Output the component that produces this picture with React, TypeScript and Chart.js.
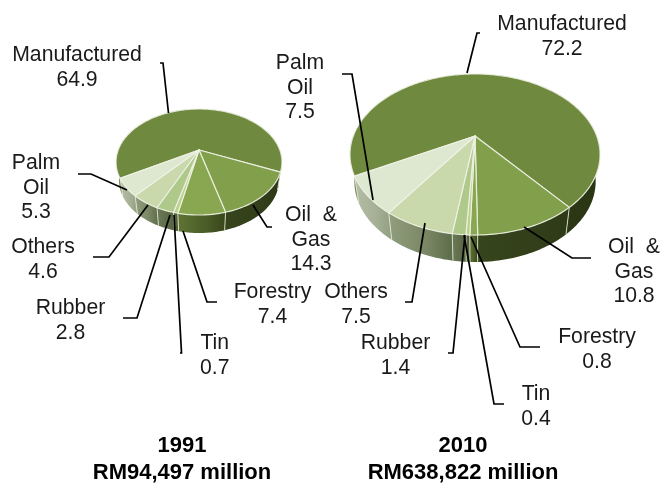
import React, { useEffect, useRef } from "react";
import { Chart, registerables } from "chart.js";

Chart.register(...registerables);

// ---- data ----
const categories = ["Manufactured", "Oil & Gas", "Forestry", "Tin", "Rubber", "Others", "Palm Oil"];
const values1991 = [64.9, 14.3, 7.4, 0.7, 2.8, 4.6, 5.3];
const values2010 = [72.2, 10.8, 0.8, 0.4, 1.4, 7.5, 7.5];
const pieTitles = [
  ["1991", "RM94,497 million"],
  ["2010", "RM638,822 million"],
];
const labelLines = [["Manufactured"], ["Oil  &", "Gas"], ["Forestry"], ["Tin"], ["Rubber"], ["Others"], ["Palm", "Oil"]];

// ---- styles ----
const topColors = ["#6f8a3f", "#829f4b", "#89a750", "#bcd08e", "#afc98a", "#c9d9ac", "#dee7cf"];
const wallStops: [string, string, string][] = [
  ["#7d8f58", "#2f3b18", "#2a3514"],
  ["#36451c", "#323f1a", "#2e3a17"],
  ["#5f7433", "#4a5c28", "#384619"],
  ["#566539", "#525f38", "#4e5b35"],
  ["#6c7a58", "#5f6c4a", "#54623e"],
  ["#909e7e", "#788663", "#5c6b49"],
  ["#b4bea7", "#a4af94", "#929f82"],
];

// ---- layout ----
const rotations = [-120, -118];
const geometry = [
  { cx: 199, cy: 150, a: 80.8, b: 50.3, k: 0.2264, depth: 18 },
  { cx: 475, cy: 136, a: 121.7, b: 76.3, k: 0.2296, depth: 27 },
];
const labelAnchors = [
  [[77, 55], [311, 215], [272.5, 292], [214.7, 343], [70.5, 308], [43, 247], [36, 163]],
  [[562, 24], [634, 247], [597, 337], [536, 394], [395.5, 343], [356, 292], [300, 63]],
];
const leaders = [
  [
    [[160, 63], [163, 63], [168.5, 113]],
    [[272, 227], [267, 227], [253, 205]],
    [[217, 302], [207, 302], [183, 231]],
    [[180, 353], [181.5, 353], [174, 215]],
    [[123, 318], [137, 318], [170, 215]],
    [[93, 257], [109, 257], [148, 205]],
    [[78, 174], [91, 174], [127, 190]],
  ],
  [
    [[480, 33], [477, 33], [467, 73]],
    [[591, 258], [572, 258], [524, 227]],
    [[540, 347], [520, 347], [471, 237]],
    [[504, 404], [494, 404], [464, 235]],
    [[448, 353], [453, 353], [465, 235]],
    [[405, 302], [412, 302], [425, 223]],
    [[342, 74], [352, 74], [373, 200]],
  ],
];
const titleCenters = [182, 463];
const titleRows = [446, 473];
const LABEL_FONT = '21.2px "Liberation Sans", Arial, sans-serif';
const TITLE_FONT = 'bold 22px "Liberation Sans", Arial, sans-serif';
const TEXT_COLOR = "#1a1a1a";
const LINE_HEIGHT = 24.7;

type Geo = (typeof geometry)[number];

function project(g: Geo, angle: number, lower = false): [number, number] {
  const u = Math.cos(angle);
  const v = Math.sin(angle);
  const w = 1 - g.k * v;
  const x = (g.a * u) / w;
  const y = (g.b * v) / w;
  return lower ? [g.cx + x * 0.965, g.cy + y + g.depth] : [g.cx + x, g.cy + y];
}

function sampleAngles(start: number, end: number): number[] {
  const n = Math.max(2, Math.ceil(Math.abs(end - start) / 0.02));
  const out: number[] = [];
  for (let i = 0; i <= n; i++) out.push(start + ((end - start) * i) / n);
  return out;
}

const perspectivePie = {
  id: "perspectivePie",
  beforeDatasetDraw(chart: any, args: any) {
    const ctx: CanvasRenderingContext2D = chart.ctx;
    const g = geometry[args.index];
    const arcs = args.meta.data as any[];
    ctx.save();
    ctx.lineJoin = "round";
    // side walls
    arcs.forEach((arc, i) => {
      const { startAngle, endAngle } = arc.getProps(["startAngle", "endAngle"], true);
      const angles = sampleAngles(startAngle, endAngle);
      const upper = angles.map((t) => project(g, t));
      const lower = angles.map((t) => project(g, t, true));
      const xs = upper.concat(lower).map((p) => p[0]);
      const minX = Math.min(...xs);
      const maxX = Math.max(...xs);
      const grad = ctx.createLinearGradient(minX, 0, Math.max(maxX, minX + 1), 0);
      const stops = wallStops[i];
      grad.addColorStop(0, stops[0]);
      grad.addColorStop(0.6, stops[1]);
      grad.addColorStop(1, stops[2]);
      ctx.beginPath();
      upper.forEach((p, j) => (j ? ctx.lineTo(p[0], p[1]) : ctx.moveTo(p[0], p[1])));
      for (let j = lower.length - 1; j >= 0; j--) ctx.lineTo(lower[j][0], lower[j][1]);
      ctx.closePath();
      ctx.fillStyle = grad;
      ctx.fill();
    });
    // wall separators
    ctx.strokeStyle = "rgba(225,231,212,0.85)";
    ctx.lineWidth = 1;
    arcs.forEach((arc) => {
      const { endAngle } = arc.getProps(["endAngle"], true);
      if (Math.sin(endAngle) < 0) return;
      const a = project(g, endAngle);
      const b = project(g, endAngle, true);
      ctx.beginPath();
      ctx.moveTo(a[0], a[1]);
      ctx.lineTo(b[0], b[1]);
      ctx.stroke();
    });
    // top faces
    arcs.forEach((arc, i) => {
      const { startAngle, endAngle } = arc.getProps(["startAngle", "endAngle"], true);
      ctx.beginPath();
      ctx.moveTo(g.cx, g.cy);
      sampleAngles(startAngle, endAngle).forEach((t) => {
        const p = project(g, t);
        ctx.lineTo(p[0], p[1]);
      });
      ctx.closePath();
      ctx.fillStyle = topColors[i];
      ctx.fill();
      ctx.strokeStyle = "rgba(238,242,228,0.9)";
      ctx.lineWidth = 1.2;
      ctx.stroke();
    });
    ctx.restore();
    return false;
  },
  afterDatasetsDraw(chart: any) {
    const ctx: CanvasRenderingContext2D = chart.ctx;
    ctx.save();
    // leader lines
    ctx.strokeStyle = "#000";
    ctx.lineWidth = 1.7;
    ctx.lineJoin = "miter";
    leaders.forEach((set) =>
      set.forEach((pts) => {
        ctx.beginPath();
        pts.forEach((p, j) => (j ? ctx.lineTo(p[0], p[1]) : ctx.moveTo(p[0], p[1])));
        ctx.stroke();
      })
    );
    // data labels
    ctx.fillStyle = TEXT_COLOR;
    ctx.textAlign = "center";
    ctx.textBaseline = "middle";
    ctx.font = LABEL_FONT;
    chart.data.datasets.forEach((ds: any, d: number) => {
      ds.data.forEach((val: number, i: number) => {
        const [x, y] = labelAnchors[d][i];
        const lines = [...labelLines[i], val.toFixed(1)];
        lines.forEach((line, j) => ctx.fillText(line, x, y + j * LINE_HEIGHT));
      });
    });
    // pie captions
    ctx.fillStyle = "#000";
    ctx.font = TITLE_FONT;
    pieTitles.forEach((rows, d) => {
      rows.forEach((row, j) => ctx.fillText(row, titleCenters[d], titleRows[j]));
    });
    ctx.restore();
  },
};

export default function App() {
  const ref = useRef<HTMLCanvasElement | null>(null);
  useEffect(() => {
    if (!ref.current) return;
    const chart = new Chart(ref.current, {
      type: "pie",
      data: {
        labels: categories,
        datasets: [
          { label: "1991", data: values1991, rotation: rotations[0], backgroundColor: topColors },
          { label: "2010", data: values2010, rotation: rotations[1], backgroundColor: topColors },
        ],
      },
      options: {
        animation: false,
        responsive: false,
        events: [],
        layout: { padding: 0 },
        plugins: { legend: { display: false }, tooltip: { enabled: false }, title: { display: false } },
      },
      plugins: [perspectivePie],
    } as any);
    return () => chart.destroy();
  }, []);
  return (
    <div style={{ position: "absolute", left: 0, top: 0, width: 661, height: 484, background: "#fff" }}>
      <canvas ref={ref} width={661} height={484} style={{ display: "block" }} />
    </div>
  );
}
